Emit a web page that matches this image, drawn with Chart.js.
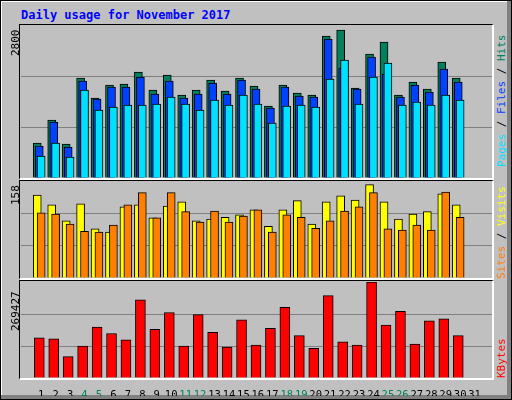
<!DOCTYPE html>
<html>
<head>
<meta charset="utf-8">
<script src="https://cdn.jsdelivr.net/npm/chart.js@4/dist/chart.umd.min.js"></script>
<style>
  body { margin: 0; background: #c0c0c0; }
  #frame { position: relative; width: 510px; height: 398px; border: 1px solid #000; background: #c0c0c0;
           box-shadow: inset -4px -4px 0 #808080, inset 1px 1px 0 #fff; font-family: "DejaVu Sans Mono", monospace; }
  .panel { position: absolute; box-sizing: border-box; border-top: 1px solid #000; border-left: 1px solid #000;
           border-right: 2px solid #fff; border-bottom: 2px solid #fff; }
  canvas { position: absolute; }
  .lbl { position: absolute; font-size: 11px; transform-origin: left top; transform: rotate(-90deg); white-space: nowrap; }
  #title { position: absolute; left: 20px; top: 7px; color: #0000ff; font-weight: bold; font-size: 12px; }
</style>
</head>
<body>
<div id="frame">
  <div id="title">Daily usage for November 2017</div>
  <div class="panel" style="left:18px;top:23px;width:475px;height:156px"></div>
  <div class="panel" style="left:18px;top:179px;width:475px;height:100px"></div>
  <div class="panel" style="left:18px;top:279px;width:475px;height:100px"></div>
  <canvas id="c1" style="left:20px;top:25px"></canvas>
  <canvas id="c2" style="left:20px;top:180px"></canvas>
  <canvas id="c3" style="left:20px;top:281px"></canvas>
  <div class="lbl" style="left:8px;top:55px">2800</div>
  <div class="lbl" style="left:8px;top:204px">158</div>
  <div class="lbl" style="left:8px;top:330px">269427</div>
  <div class="lbl" style="left:494px;top:166px"><span style="color:#00e0ff">Pages</span> / <span style="color:#0040ff">Files</span> / <span style="color:#00805c">Hits</span></div>
  <div class="lbl" style="left:494px;top:278px"><span style="color:#ff8000">Sites</span> / <span style="color:#ffff00">Visits</span></div>
  <div class="lbl" style="left:494px;top:377px"><span style="color:#ff0000">KBytes</span></div>
</div>
<script>
const days = [1,2,3,4,5,6,7,8,9,10,11,12,13,14,15,16,17,18,19,20,21,22,23,24,25,26,27,28,29,30,31];
const weekends = [4,5,11,12,18,19,25,26];
const hits  = [645,1068,626,1842,1474,1713,1732,1953,1621,1897,1529,1621,1805,1603,1842,1695,1326,1713,1566,1529,2616,2726,1658,2284,2505,1529,1768,1640,2137,1842];
const files = [590,1030,570,1787,1455,1676,1676,1860,1547,1787,1474,1547,1750,1547,1805,1640,1289,1676,1511,1492,2561,2026,1640,2229,1916,1492,1713,1584,2008,1768];
const pages = [405,645,387,1621,1253,1308,1345,1345,1363,1492,1363,1253,1437,1345,1529,1363,1013,1326,1345,1308,1824,2174,1363,1860,2118,1345,1400,1345,1529,1437];
const sites  = [135,119,93,121,80,75,116,119,98,117,124,93,96,99,103,111,84,111,126,88,124,134,127,152,124,96,104,108,137,119];
const visits = [106,104,88,76,75,86,119,139,98,139,108,91,109,91,101,111,75,103,99,81,93,109,116,139,80,78,86,78,140,99];
const kbytes = [113079,110129,59981,89480,142578,124878,107179,219273,136678,183877,89480,177977,127828,86530,163229,92430,139628,198624,118979,83580,231073,101279,92430,269427,148478,186827,95379,160279,166179,118979];
const maxTop = 2800, maxMid = 158, maxBot = 269427;

const pts = (arr, off) => arr.map((v, i) => ({x: days[i] + off, y: v}));
const ds = (arr, off, color, w) => ({data: pts(arr, off), backgroundColor: color, borderColor: '#000',
  borderWidth: 1, borderSkipped: 'bottom', barThickness: w, grouped: false});

function makeChart(id, w, h, datasets, max, showX) {
  const cv = document.getElementById(id);
  cv.width = w; cv.height = h; cv.style.width = w + 'px'; cv.style.height = h + 'px';
  return new Chart(cv, {
    type: 'bar',
    data: {datasets},
    options: {
      responsive: false, animation: false, devicePixelRatio: 1,
      layout: {padding: 0},
      plugins: {legend: {display: false}, tooltip: {enabled: false}},
      scales: {
        x: {type: 'linear', min: 0.13, max: 31.68, display: showX,
            grid: {display: false}, border: {display: false},
            afterFit: s => { s.height = showX ? 18 : 0; },
            afterBuildTicks: s => { s.ticks = days.map(d => ({value: d})); },
            ticks: {autoSkip: false, maxRotation: 0, padding: 3,
                    font: {family: 'DejaVu Sans Mono', size: 10.5},
                    color: c => weekends.includes(c.tick.value) ? '#00805c' : '#000',
                    callback: v => String(v)}},
        y: {min: 0, max: max, display: true,
            afterFit: s => { s.width = 0; },
            afterBuildTicks: s => { s.ticks = [0, max / 3, 2 * max / 3, max].map(v => ({value: v})); },
            grid: {color: c => (c.tick.value > 0 && c.tick.value < max) ? '#808080' : 'rgba(0,0,0,0)', lineWidth: 1, drawTicks: false},
            border: {display: false},
            ticks: {display: false}}
      }
    }
  });
}

makeChart('c1', 471, 152, [
  ds(pages, 0, '#00e0ff', 8),
  ds(files, -0.13, '#0040ff', 8),
  ds(hits, -0.27, '#00805c', 8)
], maxTop, false);
makeChart('c2', 471, 97, [
  ds(visits, 0, '#ff8000', 8),
  ds(sites, -0.27, '#ffff00', 8)
], maxMid, false);
makeChart('c3', 471, 114, [
  ds(kbytes, -0.13, '#ff0000', 10)
], maxBot, true);
</script>
</body>
</html>
